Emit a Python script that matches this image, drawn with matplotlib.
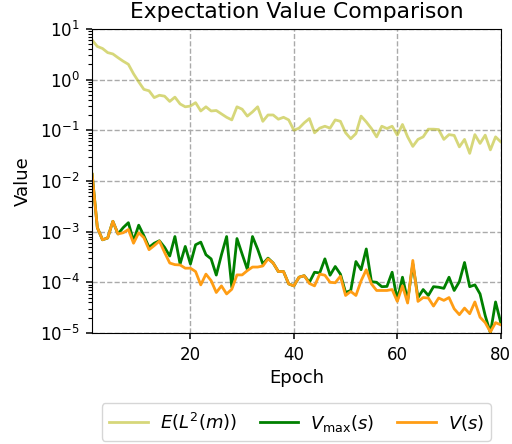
import numpy as np
import matplotlib
matplotlib.use("Agg")
import matplotlib.pyplot as plt

epochs = np.arange(1, 81)

exp_l2 = [6.0, 4.5, 4.1, 3.4, 3.2, 2.7, 2.3, 2.0, 1.3, 0.9,
          0.64, 0.6, 0.44, 0.49, 0.47, 0.37, 0.45, 0.33, 0.29, 0.30,
          0.35, 0.24, 0.29, 0.24, 0.245, 0.21, 0.18, 0.16, 0.29, 0.26,
          0.19, 0.23, 0.29, 0.15, 0.2, 0.2, 0.165, 0.18, 0.16, 0.10,
          0.11, 0.14, 0.17, 0.089, 0.11, 0.12, 0.11, 0.16, 0.15, 0.089,
          0.068, 0.086, 0.19, 0.146, 0.108, 0.074, 0.12, 0.108, 0.12, 0.08,
          0.13, 0.074, 0.048, 0.066, 0.074, 0.105, 0.105, 0.103, 0.066, 0.082,
          0.079, 0.047, 0.066, 0.035, 0.082, 0.055, 0.08, 0.041, 0.074, 0.059]

v_max = [0.0135, 0.0012, 0.00069, 0.00075, 0.0016, 0.0009, 0.0012, 0.0015, 0.00066, 0.00134,
         0.00083, 0.00049, 0.00059, 0.00066, 0.00049, 0.00033, 0.0008, 0.00023, 0.00051, 0.00023,
         0.00055, 0.00062, 0.00035, 0.00029, 0.000139, 0.00035, 0.0008, 0.00008, 0.00073, 0.00036,
         0.00018, 0.0008, 0.00045, 0.00023, 0.0003, 0.00024, 0.000163, 0.000163, 0.000093, 0.000085,
         1.26e-4, 1.35e-4, 1.0e-4, 1.58e-4, 1.53e-4, 2.9e-4, 1.38e-4, 2.05e-4, 1.45e-4, 6.3e-5,
         6.9e-5, 2.57e-4, 1.77e-4, 4.55e-4, 1.03e-4, 1.0e-4, 8.2e-5, 8.3e-5, 1.58e-4, 4.4e-5,
         1.26e-4, 4.4e-5, 2.3e-4, 5.0e-5, 7.2e-5, 5.5e-5, 8.2e-5, 8.0e-5, 7.6e-5, 1.26e-4,
         6.9e-5, 1.03e-4, 2.46e-4, 8.2e-5, 8.9e-5, 5.9e-5, 2.2e-5, 1.0e-5, 4.1e-5, 1.6e-5]

v_s = [0.0135, 0.0012, 0.00069, 0.00075, 0.0016, 0.0009, 0.00095, 0.0011, 0.00059, 0.00095,
       0.00076, 0.00044, 0.00053, 0.00065, 0.00039, 0.00024, 0.000223, 0.00022, 0.00019, 0.00019,
       0.000163, 0.000089, 0.000145, 0.000108, 0.000063, 0.000085, 0.000059, 0.000073, 0.00014, 0.00014,
       0.00017, 0.0002, 0.0002, 0.00021, 0.00029, 0.00024, 0.000163, 0.000163, 0.000093, 0.000085,
       1.26e-4, 1.35e-4, 9.5e-5, 8.5e-5, 1.45e-4, 1.38e-4, 1.0e-4, 9.8e-5, 1.32e-4, 5.5e-5,
       6.6e-5, 5.5e-5, 1.07e-4, 1.77e-4, 9.3e-5, 6.9e-5, 6.9e-5, 6.9e-5, 7.2e-5, 4.2e-5,
       8.5e-5, 3.9e-5, 2.7e-4, 4.2e-5, 5.0e-5, 4.9e-5, 3.4e-5, 4.9e-5, 4.4e-5, 5.0e-5,
       3.0e-5, 2.3e-5, 3.1e-5, 2.4e-5, 4.1e-5, 2.05e-5, 1.6e-5, 1.05e-5, 1.6e-5, 1.45e-5]

fig = plt.figure(figsize=(5.12, 4.44), dpi=100)
ax = fig.add_axes([0.180, 0.250, 0.798, 0.685])

ax.plot(epochs, exp_l2, color='#bcbd22', alpha=0.6, lw=2, label=r'$E(L^2(m))$')
ax.plot(epochs, v_max, color='green', lw=2, label=r'$V_{\max}(s)$')
ax.plot(epochs, v_s, color='#ff9d14', lw=2, label=r'$V(s)$')

ax.set_yscale('log')
ax.set_xlim(1, 80)
ax.set_ylim(1e-5, 1e1)
ax.set_xticks([20, 40, 60, 80])
ax.grid(True, which='major', linestyle='--', color='#aaaaaa', linewidth=1)
ax.tick_params(which='major', labelsize=12, length=4.5, width=1.1, pad=4.5)
ax.tick_params(which='minor', length=2.6, width=0.8)
ax.set_xlabel('Epoch', fontsize=13)
ax.set_ylabel('Value', fontsize=13, labelpad=6)
ax.set_title('Expectation Value Comparison', fontsize=15.7, pad=8)

ax.legend(loc='upper center', bbox_to_anchor=(0.5, -0.202), ncol=3, fontsize=13,
          frameon=True, handlelength=2.15, handletextpad=0.66, columnspacing=1.25)

fig.savefig('out.png', dpi=100)
